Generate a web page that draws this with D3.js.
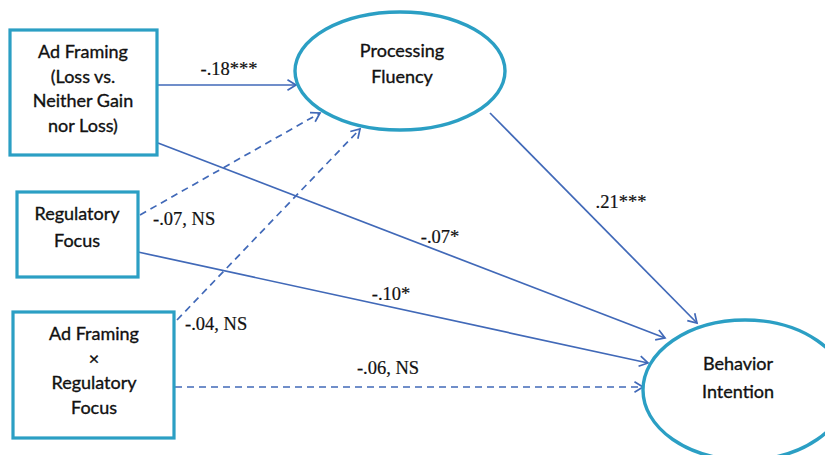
<!DOCTYPE html>
<html>
<head>
<meta charset="utf-8">
<script src="https://cdn.jsdelivr.net/npm/d3@7"></script>
<style>
  body { margin: 0; background: #fff; }
  .node-text { font-family: Lato, "Open Sans", sans-serif; font-size: 18px; fill: #111; stroke: #111; stroke-width: 0.35px; }
  .coef { font-family: "Liberation Serif", "Times New Roman", serif; font-size: 18.5px; fill: #111; stroke: #111; stroke-width: 0.2px; }
</style>
</head>
<body>
<svg width="825" height="455"></svg>
<script>
// model: nodes and path coefficients
let boxes = ["AF", "RF", "AFxRF"];
let ovals = ["PF", "BI"];
let nodeLabels = {
  AF: ["Ad Framing", "(Loss vs.", "Neither Gain", "nor Loss)"],
  RF: ["Regulatory", "Focus"],
  AFxRF: ["Ad Framing", "\u00d7", "Regulatory", "Focus"],
  PF: ["Processing", "Fluency"],
  BI: ["Behavior", "Intention"]
};
let pathFrom = ["AF", "RF", "AFxRF", "AF", "RF", "AFxRF", "PF"];
let pathTo   = ["PF", "PF", "PF",    "BI", "BI", "BI",    "BI"];
let coefs    = [-.18, -.07, -.04, -.07, -.10, -.06, .21];
let sigs     = ["***", "NS", "NS", "*", "*", "NS", "***"];

// layout (pixel space, kept apart from the data)
let boxPos = {
  AF: [10, 30, 147, 125],
  RF: [17, 192, 121, 85],
  AFxRF: [13, 312, 161, 126]
};
let ovalPos = { PF: [400, 71, 105, 59], BI: [745, 390, 102, 70] };
let textPos = {
  AF: [83, 58, 24.5], RF: [77, 220, 27], AFxRF: [94, 340, 24.5],
  PF: [402, 57, 26], BI: [738, 370, 28]
};
let pathEnds = [
  [158, 85, 296, 85], [140, 215, 320, 113], [177, 320, 360, 129],
  [158, 143, 665, 338], [138, 252, 648, 363], [175, 387, 643, 387],
  [490, 113, 697, 323]
];
let labelPos = [
  [229, 75, "middle"], [153, 225, "start"], [185, 330, "start"],
  [440, 243, "middle"], [391, 300, "middle"], [388, 374, "middle"],
  [621, 208, "middle"]
];

const teal = "#2b9fc4", blue = "#4169b8";
const svg = d3.select("svg");

const fmt = v => (v < 0 ? "-" : "") + d3.format(".2f")(Math.abs(v)).replace(/^0/, "");

const paths = coefs.map((c, i) => ({
  from: pathFrom[i], to: pathTo[i], coef: c, sig: sigs[i],
  ends: pathEnds[i], lab: labelPos[i]
}));

const line = d3.line();

svg.append("g").selectAll("path")
  .data(paths)
  .join("path")
  .attr("d", d => line([[d.ends[0], d.ends[1]], [d.ends[2], d.ends[3]]]))
  .attr("stroke", blue)
  .attr("stroke-width", 1.7)
  .attr("fill", "none")
  .attr("stroke-dasharray", d => d.sig == "NS" ? "7,5" : null);

// open arrow heads
svg.append("g").selectAll("path")
  .data(paths)
  .join("path")
  .attr("d", d => {
    let [x1, y1, x2, y2] = d.ends;
    let a = Math.atan2(y2 - y1, x2 - x1), L = 10, w = 0.55;
    return line([
      [x2 - L * Math.cos(a - w), y2 - L * Math.sin(a - w)],
      [x2, y2],
      [x2 - L * Math.cos(a + w), y2 - L * Math.sin(a + w)]
    ]);
  })
  .attr("stroke", blue)
  .attr("stroke-width", 1.7)
  .attr("fill", "none");

svg.append("g").selectAll("rect")
  .data(boxes)
  .join("rect")
  .attr("x", d => boxPos[d][0])
  .attr("y", d => boxPos[d][1])
  .attr("width", d => boxPos[d][2])
  .attr("height", d => boxPos[d][3])
  .attr("fill", "#fff")
  .attr("stroke", teal)
  .attr("stroke-width", 3.2);

svg.append("g").selectAll("ellipse")
  .data(ovals)
  .join("ellipse")
  .attr("cx", d => ovalPos[d][0])
  .attr("cy", d => ovalPos[d][1])
  .attr("rx", d => ovalPos[d][2])
  .attr("ry", d => ovalPos[d][3])
  .attr("fill", "#fff")
  .attr("stroke", teal)
  .attr("stroke-width", 3.4);

boxes.concat(ovals).forEach(n => {
  let [x, y, dy] = textPos[n];
  svg.append("g").selectAll("text")
    .data(nodeLabels[n])
    .join("text")
    .attr("class", "node-text")
    .attr("x", x)
    .attr("y", (d, i) => y + i * dy)
    .attr("text-anchor", "middle")
    .text(d => d);
});

svg.append("g").selectAll("text")
  .data(paths)
  .join("text")
  .attr("class", "coef")
  .attr("x", d => d.lab[0])
  .attr("y", d => d.lab[1])
  .attr("text-anchor", d => d.lab[2])
  .text(d => fmt(d.coef) + (d.sig == "NS" ? ", NS" : d.sig));
</script>
</body>
</html>
